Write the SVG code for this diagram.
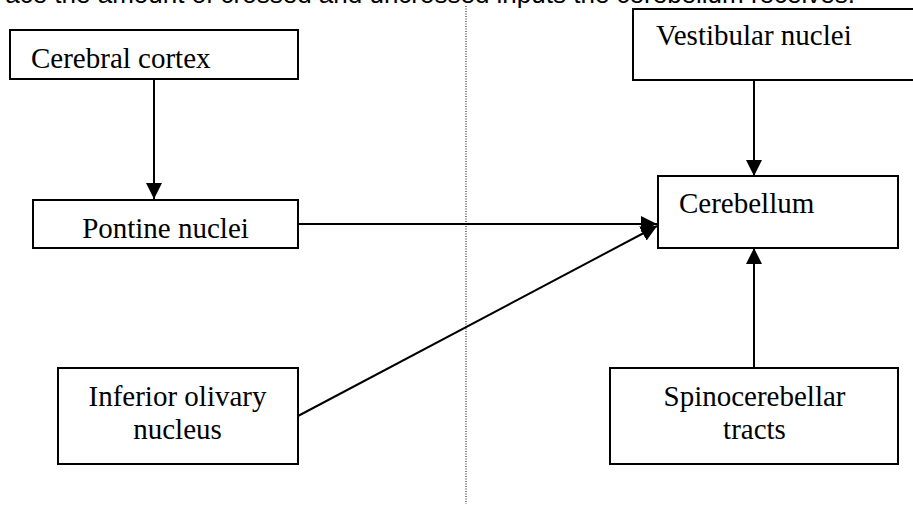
<svg xmlns="http://www.w3.org/2000/svg" width="913" height="507" viewBox="0 0 913 507">
<style>
.box{fill:#fff;stroke:#000;stroke-width:2}
.lbl{font-family:"Liberation Serif","Times New Roman",serif;font-size:29px;fill:#000}
.con{stroke:#000;stroke-width:2;fill:none}
.cap{font-family:"Liberation Sans",Arial,sans-serif;font-size:26px;fill:#000}
</style>
<defs>
<marker id="ah" markerUnits="userSpaceOnUse" markerWidth="16" markerHeight="16" viewBox="0 0 16 16" refX="16" refY="8" orient="auto">
<path d="M0,0 L16,8 L0,16 Z" fill="#000"/>
</marker>
</defs>
<text class="cap" x="855" y="3" text-anchor="end">ace the amount of crossed and uncrossed inputs the cerebellum receives.</text>
<line x1="466" y1="6" x2="466" y2="504" stroke="#000" stroke-width="1" stroke-dasharray="1,1.5"/>
<g id="connectors">
<line class="con" x1="154" y1="79" x2="154" y2="199" marker-end="url(#ah)"/>
<line class="con" x1="298" y1="224" x2="657" y2="224" marker-end="url(#ah)"/>
<line class="con" x1="298" y1="416" x2="657" y2="226" marker-end="url(#ah)"/>
<line class="con" x1="754" y1="80" x2="754" y2="176" marker-end="url(#ah)"/>
<line class="con" x1="754" y1="368" x2="754" y2="248" marker-end="url(#ah)"/>
</g>
<g id="cerebral-cortex">
<rect class="box" x="10" y="30" width="288" height="49"/>
<text class="lbl" x="31" y="67.5">Cerebral cortex</text>
</g>
<g id="pontine-nuclei">
<rect class="box" x="33" y="200" width="265" height="48"/>
<text class="lbl" x="165.5" y="237.5" text-anchor="middle">Pontine nuclei</text>
</g>
<g id="vestibular-nuclei">
<rect class="box" x="633" y="9" width="300" height="71"/>
<text class="lbl" x="656" y="44.5">Vestibular nuclei</text>
</g>
<g id="cerebellum">
<rect class="box" x="658" y="176" width="240" height="72"/>
<text class="lbl" x="679" y="212.5">Cerebellum</text>
</g>
<g id="inferior-olivary-nucleus">
<rect class="box" x="58" y="368" width="240" height="96"/>
<text class="lbl" x="177.5" y="406" text-anchor="middle">Inferior olivary</text>
<text class="lbl" x="177.5" y="439" text-anchor="middle">nucleus</text>
</g>
<g id="spinocerebellar-tracts">
<rect class="box" x="610" y="368" width="288" height="96"/>
<text class="lbl" x="754.5" y="406" text-anchor="middle">Spinocerebellar</text>
<text class="lbl" x="754.5" y="439" text-anchor="middle">tracts</text>
</g>
</svg>
